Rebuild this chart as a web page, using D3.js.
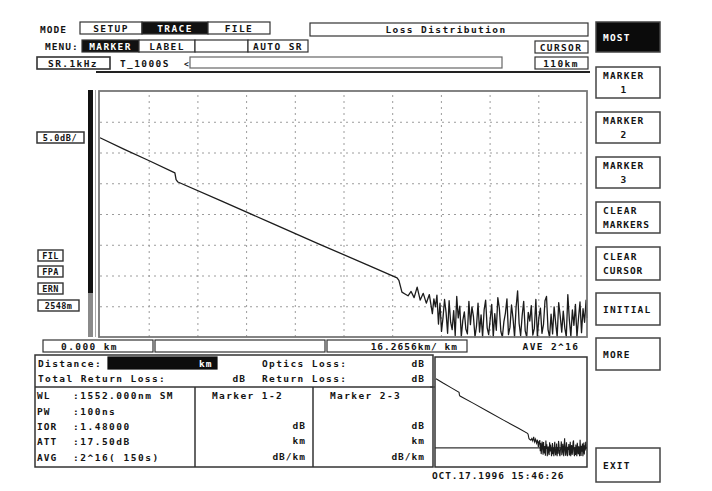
<!DOCTYPE html>
<html>
<head>
<meta charset="utf-8">
<script src="https://cdn.jsdelivr.net/npm/d3@7"></script>
<style>
  body { margin: 0; background: #fff; }
  svg text {
    font-family: "DejaVu Sans Mono", "Liberation Mono", monospace;
    font-weight: bold;
    font-size: 9.5px;
    letter-spacing: 1.4px;
    fill: #141414;
  }
</style>
</head>
<body>
<svg id="screen" width="712" height="491"></svg>
<script>
// ---- OTDR trace: distance (km) and level (dB) ----
const traceKm = [
  0, 2, 4, 6.15, 6.25, 6.4, 10, 14, 18, 22, 24.4, 24.55,
  24.80, 25.05, 25.30, 25.55, 25.80, 26.05, 26.30, 26.55, 26.80, 27.05,
  27.300, 27.425, 27.550, 27.675, 27.800, 27.925, 28.050, 28.175, 28.300, 28.425,
  28.550, 28.675, 28.800, 28.925, 29.050, 29.175, 29.300, 29.425, 29.550, 29.675,
  29.800, 29.925, 30.050, 30.175, 30.300, 30.425, 30.550, 30.675, 30.800, 30.925,
  31.050, 31.175, 31.300, 31.425, 31.550, 31.675, 31.800, 31.925, 32.050, 32.175,
  32.300, 32.425, 32.550, 32.675, 32.800, 32.925, 33.050, 33.175, 33.300, 33.425,
  33.550, 33.675, 33.800, 33.925, 34.050, 34.175, 34.300, 34.425, 34.550, 34.675,
  34.800, 34.925, 35.050, 35.175, 35.300, 35.425, 35.550, 35.675, 35.800, 35.925,
  36.050, 36.175, 36.300, 36.425, 36.550, 36.675, 36.800, 36.925, 37.050, 37.175,
  37.300, 37.425, 37.550, 37.675, 37.800, 37.925, 38.050, 38.175, 38.300, 38.425,
  38.550, 38.675, 38.800, 38.925, 39.050, 39.175, 39.300, 39.425, 39.550, 39.675,
  39.800, 39.925, 40.000
];
const traceDb = [
  32.4, 30.5, 28.7, 26.7, 25.6, 25.2, 22.1, 18.6, 15.1, 11.7, 9.6, 9.2,
  7.3, 7.0, 6.7, 7.4, 6.4, 8.1, 6.0, 7.1, 5.5, 6.9,
  3.8, 6.2, 4.9, 6.8, 2.1, 5.5, 0.9, 3.2, 6.1, 4.0, 0.6, 5.9,
  2.4, 1.2, 4.3, 0.2, 6.6, 3.1, 5.0, 0.0, 2.7, 4.1, 1.3, 0.5,
  5.8, 2.0, 4.9, 3.3, 0.0, 1.8, 5.5, 0.8, 3.6, 0.0, 4.4, 6.0,
  1.5, 0.4, 2.9, 5.3, 0.0, 3.8, 1.1, 6.4, 4.7, 0.9, 0.0, 2.5,
  3.9, 6.2, 0.4, 1.6, 5.2, 3.0, 0.0, 4.8, 7.5, 2.2, 0.2, 3.5,
  5.8, 1.0, 0.0, 4.0, 2.6, 5.1, 0.3, 1.4, 6.1, 0.0, 3.2, 4.7,
  0.6, 2.0, 5.9, 6.6, 1.2, 0.0, 3.7, 0.5, 4.9, 2.3, 0.0, 5.6,
  3.4, 0.8, 4.2, 1.5, 0.0, 6.9, 2.8, 0.1, 4.4, 1.9, 5.3, 0.0,
  3.0, 5.7, 0.7, 4.6, 2.4, 6.0, 3.1
];

// grid divisions (10 horizontal x 8 vertical)
const gridKm = [0, 4, 8, 12, 16, 20, 24, 28, 32, 36, 40];
const gridDb = [0, 5, 10, 15, 20, 25, 30, 35, 40];
const refLevelDb = 3.5;

// ---- screen texts ----
const modeTabs = ["SETUP", "TRACE", "FILE"];
const menuTabs = ["MARKER", "LABEL", "", "AUTO SR"];
const softKeys = [["MOST"], ["MARKER", "1"], ["MARKER", "2"], ["MARKER", "3"],
                  ["CLEAR", "MARKERS"], ["CLEAR", "CURSOR"], ["INITIAL"], ["MORE"], ["EXIT"]];
const sideLabels = ["FIL", "FPA", "ERN", "2548m"];
const paramNames = ["WL", "PW", "IOR", "ATT", "AVG"];
const paramValues = [":1552.000nm SM", ":100ns", ":1.48000", ":17.50dB", ":2^16(   150s)"];
const markerUnits = ["dB", "km ", "dB/km"];

const svg = d3.select("#screen");

function box(x, y, w, h, opt = {}) {
  return svg.append("rect")
    .attr("x", x).attr("y", y).attr("width", w).attr("height", h)
    .attr("fill", opt.fill || "#fff")
    .attr("stroke", opt.stroke || "#333")
    .attr("stroke-width", opt.sw || 1.2);
}
function label(x, y, s, opt = {}) {
  const t = svg.append("text").attr("x", x).attr("y", y).text(s)
    .attr("text-anchor", opt.anchor || "start");
  if (opt.fill) t.style("fill", opt.fill);
  if (opt.size) t.style("font-size", opt.size + "px");
  if (opt.ls !== undefined) t.style("letter-spacing", opt.ls + "px");
  return t;
}

// ---- header rows ----
label(40, 33, "MODE", { ls: 1 });
const modeX = [80, 142, 208, 270];
modeTabs.forEach((s, i) => {
  const active = s === "TRACE";
  box(modeX[i], 22, modeX[i + 1] - modeX[i], 12, { fill: active ? "#111" : "#fff" });
  label((modeX[i] + modeX[i + 1]) / 2, 32, s, { anchor: "middle", fill: active ? "#fff" : null });
});
box(310, 23, 278, 13);
label(446, 33, "Loss Distribution", { anchor: "middle" });

label(45, 50, "MENU:", { ls: 1 });
const menuX = [82, 139, 195, 248, 308];
menuTabs.forEach((s, i) => {
  const active = s === "MARKER";
  box(menuX[i], 40, menuX[i + 1] - menuX[i], 12, { fill: active ? "#111" : "#fff" });
  label((menuX[i] + menuX[i + 1]) / 2, 50, s, { anchor: "middle", fill: active ? "#fff" : null });
});
box(535, 41, 53, 12);
label(561, 51, "CURSOR", { anchor: "middle" });

box(37, 57, 73, 12, { sw: 1.6 });
label(73, 67, "SR.1kHz", { anchor: "middle" });
label(120, 67, "T_1000S");
label(184, 67, "<", { size: 8 });
box(190, 57, 312, 11, { stroke: "#666" });
box(535, 57, 53, 12);
label(561, 67, "110km", { anchor: "middle" });

svg.append("line").attr("x1", 96).attr("x2", 590).attr("y1", 72).attr("y2", 72)
  .attr("stroke", "#222").attr("stroke-width", 2);

// ---- soft keys ----
const keyY = [22, 67, 112, 157, 202, 247, 293, 338, 448];
const keyH = [30, 31, 31, 31, 31, 33, 32, 32, 34];
softKeys.forEach((lines, i) => {
  const black = i === 0;
  box(596, keyY[i], 64, keyH[i], { fill: black ? "#0b0b0b" : "#fff", stroke: "#444", sw: 1.5 });
  const cy = keyY[i] + keyH[i] / 2;
  if (lines.length === 1) {
    label(603, cy + 3.5, lines[0], { fill: black ? "#fff" : null, ls: 1.2 });
  } else {
    label(603, cy - 4, lines[0], { ls: 1.2 });
    if (lines[1].length === 1) label(624, cy + 10, lines[1], { anchor: "middle" });
    else label(603, cy + 10, lines[1], { ls: 1.0 });
  }
});

// ---- main trace window ----
const x = d3.scaleLinear().domain([0, 40]).range([100, 587]);
const y = d3.scaleLinear().domain([0, 40]).range([337, 91]);

svg.append("rect").attr("x", 88).attr("y", 90).attr("width", 5).attr("height", 203).attr("fill", "#111");
svg.append("rect").attr("x", 88).attr("y", 293).attr("width", 5).attr("height", 44).attr("fill", "#8a8a8a");
svg.append("line").attr("x1", 95.5).attr("x2", 95.5).attr("y1", 90).attr("y2", 337)
  .attr("stroke", "#aaa").attr("stroke-width", 1);

const plot = svg.append("g");
plot.append("rect").attr("x", x(0)).attr("y", y(40)).attr("width", x(40) - x(0)).attr("height", y(0) - y(40))
  .attr("fill", "#fff");

const gx = plot.append("g").attr("transform", `translate(0,${y(0)})`)
  .call(d3.axisBottom(x).tickValues(gridKm.slice(1, -1)).tickSize(-(y(0) - y(40))).tickFormat(""));
const gy = plot.append("g").attr("transform", `translate(${x(0)},0)`)
  .call(d3.axisLeft(y).tickValues(gridDb.slice(1, -1)).tickSize(-(x(40) - x(0))).tickFormat(""));
[gx, gy].forEach(g => {
  g.select(".domain").remove();
  g.selectAll("line").attr("stroke", "#9c9c9c").attr("stroke-dasharray", "2,4").attr("stroke-width", 1);
});

plot.append("path")
  .datum(traceKm.map((k, i) => [k, traceDb[i]]))
  .attr("fill", "none").attr("stroke", "#1c1c1c").attr("stroke-width", 1.3)
  .attr("stroke-linejoin", "round")
  .attr("d", d3.line().x(d => x(d[0])).y(d => y(d[1])));

plot.append("rect").attr("x", x(0) - 1).attr("y", y(40)).attr("width", x(40) - x(0) + 1).attr("height", y(0) - y(40))
  .attr("fill", "none").attr("stroke", "#777").attr("stroke-width", 1.8);

// scale / status labels on the left
box(37, 132, 47, 11, { sw: 1.5 });
label(60, 141, "5.0dB/", { anchor: "middle", size: 8.5, ls: 0.6 });
const sideY = [250, 266, 283, 300];
sideLabels.forEach((s, i) => {
  const w = s.length > 3 ? 41 : 25;
  box(38, sideY[i], w, 11, { sw: 1.4 });
  label(38 + w / 2, sideY[i] + 9, s, { anchor: "middle", size: 8.5, ls: 0.4 });
});

// ---- cursor row ----
box(43, 340, 110, 12);
label(118, 350, "0.000  km", { anchor: "end" });
box(155, 340, 170, 12);
box(327, 340, 140, 12);
label(458, 350, "16.2656km/   km", { anchor: "end", ls: 1 });
label(551, 350, "AVE 2^16", { anchor: "middle" });

// ---- measurement panel ----
box(35, 355, 398, 112, { sw: 1.5 });
box(108, 357, 109, 12, { fill: "#0d0d0d", stroke: "#0d0d0d" });
label(38, 367, "Distance:");
label(199, 367, "km", { fill: "#fff", ls: 1 });
label(262, 367, "Optics Loss:");
label(425, 367, "dB", { anchor: "end", ls: 1 });
label(38, 382, "Total Return Loss:");
label(246, 382, "dB", { anchor: "end", ls: 1 });
label(262, 382, "Return Loss:");
label(425, 382, "dB", { anchor: "end", ls: 1 });
svg.append("line").attr("x1", 35).attr("x2", 433).attr("y1", 387).attr("y2", 387).attr("stroke", "#333").attr("stroke-width", 1.5);
[195, 313].forEach(xx => svg.append("line").attr("x1", xx).attr("x2", xx).attr("y1", 387).attr("y2", 467)
  .attr("stroke", "#333").attr("stroke-width", 1.5));

const rowY = [399, 415, 430, 445, 461];
paramNames.forEach((n, i) => {
  label(37, rowY[i], n, { ls: 1 });
  label(73, rowY[i], paramValues[i], { ls: 1.5 });
});
label(212, 399, "Marker 1-2");
label(330, 399, "Marker 2-3");
markerUnits.forEach((u, i) => {
  label(306, rowY[i + 2] - 1, u, { anchor: "end", ls: 1 });
  label(425, rowY[i + 2] - 1, u, { anchor: "end", ls: 1 });
});

// ---- overview window ----
const xm = d3.scaleLinear().domain([0, 40]).range([436, 586]);
const ym = d3.scaleLinear().domain([-4.5, 41.5]).range([467, 357]);
svg.append("clipPath").attr("id", "mini").append("rect")
  .attr("x", 435).attr("y", 357).attr("width", 152).attr("height", 110);
box(435, 357, 152, 110, { sw: 1.5 });
const mini = svg.append("g").attr("clip-path", "url(#mini)");
mini.append("line").attr("x1", 435).attr("x2", 587).attr("y1", ym(refLevelDb)).attr("y2", ym(refLevelDb))
  .attr("stroke", "#333").attr("stroke-width", 1.4);
mini.append("path")
  .datum(traceKm.map((k, i) => [k, traceDb[i]]))
  .attr("fill", "none").attr("stroke", "#1c1c1c").attr("stroke-width", 1.1)
  .attr("d", d3.line().x(d => xm(d[0])).y(d => ym(d[1])));
svg.append("line").attr("x1", 430).attr("x2", 435).attr("y1", 387).attr("y2", 387).attr("stroke", "#333");

label(432, 479, "OCT.17.1996 15:46:26", { ls: 0.9 });
</script>
</body>
</html>
